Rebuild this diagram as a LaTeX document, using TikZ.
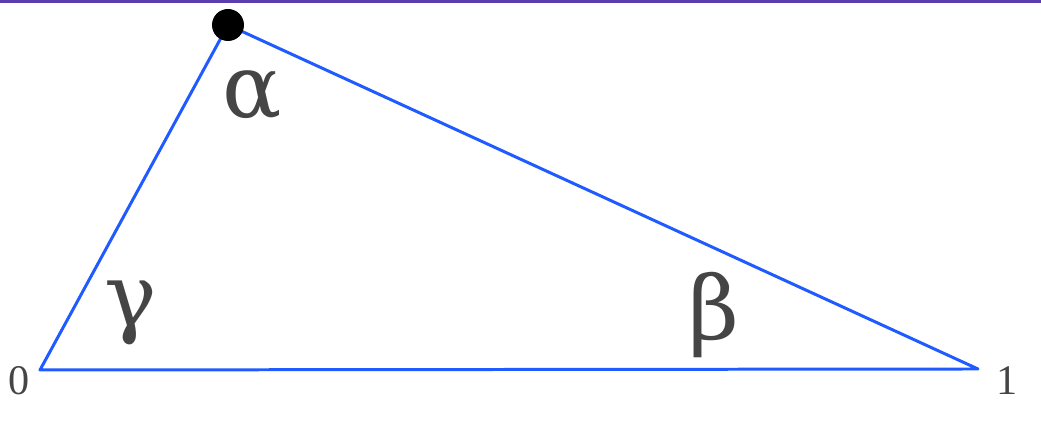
\documentclass[tikz,border=0pt]{standalone}
\usepackage{fontspec}
\setmainfont{Liberation Serif}
\newfontfamily\greekfont{DejaVu Serif}
\usepackage{tikz}
\usetikzlibrary{positioning, calc}
\definecolor{edgecolor}{HTML}{1F5BFF}
\definecolor{barcolor}{HTML}{5B3DAF}
\definecolor{labelcolor}{HTML}{454545}

\begin{document}
\begin{tikzpicture}[x=0.01cm, y=-0.01cm,
    angle/.style={text=labelcolor, font=\greekfont\fontsize{25}{25}\selectfont, inner sep=0pt},
    endlabel/.style={text=labelcolor, font=\fontsize{12}{12}\selectfont, inner sep=0pt}]
    \useasboundingbox (0,0) rectangle (1041,425);
    % Top bar
    \fill[barcolor] (0,0) rectangle (1041,3);

    % Vertices
    \coordinate (zero) at (40,370);
    \coordinate (one) at (978,369);
    \coordinate (apex) at (228,25);

    % Sides
    \draw[edgecolor, line width=0.85pt, line join=round] (zero) -- (one) -- (apex) -- cycle;

    % Apex point
    \fill[black] (apex) circle (16) node (dot) {};

    % Angles
    \node[angle] (alpha) at (252,96) {α};
    \node[angle] (gamma) at (131,313) {γ};
    \node[angle] (beta) at (714,315) {β};

    % Ends
    \node[endlabel] (lzero) at (19,381) {0};
    \node[endlabel] (lone) at (1007,381) {1};
\end{tikzpicture}
\end{document}
